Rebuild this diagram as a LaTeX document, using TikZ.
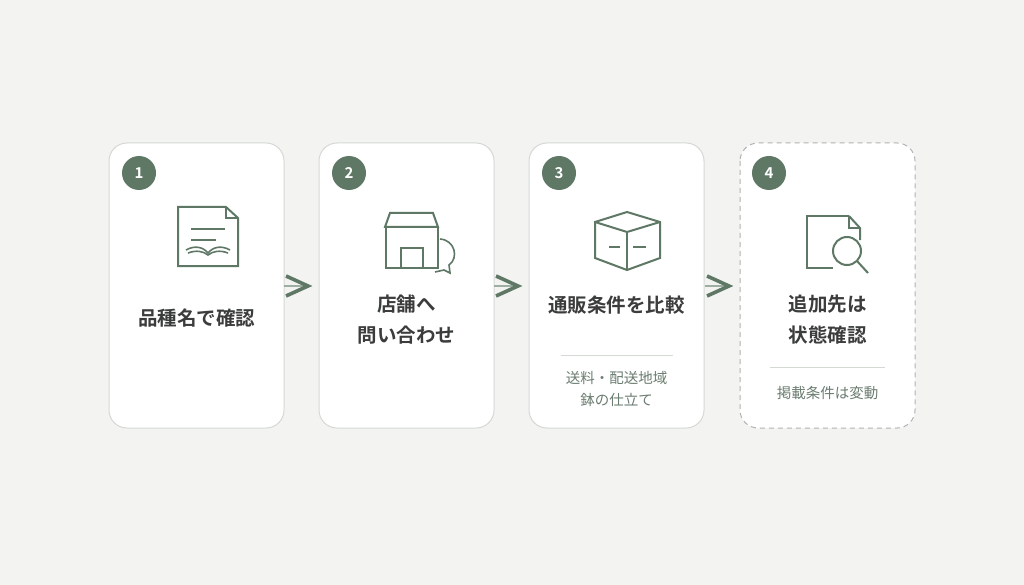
\documentclass[tikz,border=0pt]{standalone}
\usepackage{fontspec}
\setmainfont{Noto Sans CJK JP}
\newfontfamily\jpb{Noto Sans CJK JP Bold}
\begin{document}
\definecolor{bg}{HTML}{F3F4F2}
\definecolor{gr}{HTML}{5F7866}
\definecolor{bd}{HTML}{D4D9D4}
\definecolor{tt}{HTML}{3A3D3B}
\definecolor{st}{HTML}{6B7C70}
\begin{tikzpicture}[x=1pt,y=-1pt,
 card/.style={draw=bd,fill=white,line width=1pt,rounded corners=18pt},
 badge/.style={circle,fill=gr,minimum size=34pt,inner sep=0pt,text=white,font=\jpb\fontsize{15}{15}\selectfont},
 ttl/.style={text=tt,font=\jpb\fontsize{19.5}{31}\selectfont,align=center},
 sub/.style={text=st,font=\fontsize{14.5}{22}\selectfont,align=center},
 ic/.style={draw=gr,line width=2pt,line join=miter},
 chev/.style={draw=gr,line width=3.6pt},
 shaft/.style={draw=gr!60,line width=1.2pt}]
\fill[bg] (0,0) rectangle (1024,585);
\useasboundingbox (0,0) rectangle (1024,585);
\draw[card] (109,143) rectangle (284,428);
\draw[card] (319,143) rectangle (494,428);
\draw[card] (529,143) rectangle (704,428);
\draw[card,draw=gray!60,dash pattern=on 5pt off 4pt] (740,143) rectangle (915,428);
\node[badge] (b1) at (139,173) {1};
\node[badge] (b2) at (349,173) {2};
\node[badge] (b3) at (559,173) {3};
\node[badge] (b4) at (769,173) {4};
% arrows
\foreach \x/\n in {285/a1,495/a2,706/a3}{
 \coordinate (\n s) at (\x-1,286); \coordinate (\n e) at (\x+21,286);
 \draw[shaft] (\n s) -- (\n e);
 \draw[chev] (\x+1,276) -- (\x+23,286) -- (\x+1,296);
}
% icon 1
\draw[ic] (226,207) -- (178,207) -- (178,266) -- (238,266) -- (238,218) -- cycle;
\draw[ic] (226,207) -- (226,218) -- (238,218);
\draw[ic,line width=1.6pt] (191,229) -- (225,229);
\draw[ic,line width=1.6pt] (191,240) -- (216,240);
\draw[ic,line width=1.6pt] (186,250) .. controls (195,245) and (203,247) .. (208,253) .. controls (213,247) and (221,245) .. (230,250);
\draw[ic,line width=1.6pt] (188,253) .. controls (196,250) and (203,251) .. (208,255) .. controls (213,251) and (220,250) .. (228,253);
% icon 2
\draw[ic] (385,227) -- (390,213) -- (433,213) -- (438,227) -- cycle;
\draw[ic] (386,227) rectangle (438,268);
\draw[ic] (401,268) -- (401,248) -- (423,248) -- (423,268);
\draw[ic,line width=1.6pt] (440,239) .. controls (455,240) and (459,258) .. (449,265) -- (450,273) -- (444,270) -- (435,272);
% icon 3
\draw[ic] (627,212) -- (660,222) -- (660,258) -- (627,270) -- (595,258) -- (595,222) -- cycle;
\draw[ic] (595,222) -- (627,232) -- (660,222);
\draw[ic] (627,232) -- (627,270);
\draw[ic,line width=1.6pt] (609,247) -- (620,247);
\draw[ic,line width=1.6pt] (633,247) -- (646,247);
% icon 4
\draw[ic] (849,216) -- (807,216) -- (807,268) -- (833,268);
\draw[ic] (849,216) -- (860,228) -- (860,240);
\draw[ic] (849,216) -- (849,228) -- (860,228);
\draw[ic,fill=white] (847,251) circle (14);
\draw[ic] (857,261) -- (868,273);
% texts
\node[ttl] (t1) at (196.5,318) {品種名で確認};
\node[ttl] (t2) at (406.5,320) {店舗へ\\問い合わせ};
\node[ttl] (t3) at (616.5,305) {通販条件を比較};
\node[ttl] (t4) at (827.5,320) {追加先は\\状態確認};
\draw[bd,line width=1pt] (561,355) -- (673,355);
\draw[bd,line width=1pt] (770,367) -- (885,367);
\node[sub] (s3) at (616.5,389) {送料・配送地域\\鉢の仕立て};
\node[sub] (s4) at (827.5,393) {掲載条件は変動};
\end{tikzpicture}
\end{document}
